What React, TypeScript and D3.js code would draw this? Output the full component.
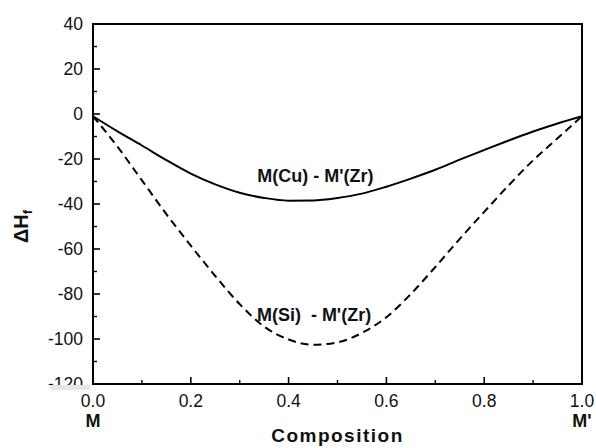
import * as d3 from "d3";

// composition fraction of M'
const composition = [0, 0.05, 0.1, 0.15, 0.2, 0.25, 0.3, 0.35, 0.4, 0.45, 0.5, 0.55, 0.6, 0.65, 0.7, 0.75, 0.8, 0.85, 0.9, 0.95, 1.0];
// M(Cu) - M'(Zr), solid
const cuZr = [-1, -7.7, -14, -20.5, -26.5, -31.3, -35, -37.3, -38.5, -38.4, -37.3, -35.4, -32.3, -28.7, -24.8, -20.3, -16, -11.8, -7.8, -4.2, -1];
// M(Si) - M'(Zr), dashed
const siZr = [-1, -14.5, -29.5, -44.5, -58.5, -72, -84.5, -94.5, -100.2, -102.6, -101.5, -97.3, -90.3, -80, -68, -55.5, -43.5, -31.7, -20.6, -10.8, -1];

const yTicks = [40, 20, 0, -20, -40, -60, -80, -100];
const yMinor = [30, 10, -10, -30, -50, -70, -90, -110];
const xTicks = [0, 0.2, 0.4, 0.6, 0.8, 1.0];
const xMinor = [0.1, 0.3, 0.5, 0.7, 0.9];

const width = 596;
const height = 448;
const margin = { top: 24, right: 14, bottom: 64, left: 93 };

export default function App() {
  const boundsWidth = width - margin.left - margin.right;
  const boundsHeight = height - margin.top - margin.bottom;

  const x = d3.scaleLinear().domain([0, 1]).range([0, boundsWidth]);
  const y = d3.scaleLinear().domain([-120, 40]).range([boundsHeight, 0]);

  const line = d3
    .line<number>()
    .x((_, i) => x(composition[i]))
    .y((d) => y(d))
    .curve(d3.curveMonotoneX);

  const font = "Arial, 'Liberation Sans', sans-serif";

  return (
    <svg
      width={width}
      height={height}
      style={{ position: "absolute", left: 0, top: 0, background: "#fff" }}
      fontFamily={font}
    >
      <defs>
        <clipPath id="lastTick">
          <rect x={0} y={0} width={margin.left} height={margin.top + boundsHeight + 1} />
        </clipPath>
      </defs>
      <g transform={`translate(${margin.left}, ${margin.top})`}>
        {/* y ticks */}
        {yTicks.map((t) => (
          <g key={t}>
            <line x1={0} x2={7} y1={y(t)} y2={y(t)} stroke="#000" strokeWidth={1.6} />
            <text x={-10} y={y(t)} dy="0.36em" textAnchor="end" fontSize={17.5} fill="#111">
              {t}
            </text>
          </g>
        ))}
        {yMinor.map((t) => (
          <line key={t} x1={0} x2={4} y1={y(t)} y2={y(t)} stroke="#000" strokeWidth={1.4} />
        ))}
        {/* x ticks */}
        {xTicks.map((t) => (
          <g key={t}>
            <line x1={x(t)} x2={x(t)} y1={boundsHeight} y2={boundsHeight - 7} stroke="#000" strokeWidth={1.6} />
            <text x={x(t)} y={boundsHeight + 23} textAnchor="middle" fontSize={17.5} fill="#111">
              {t.toFixed(1)}
            </text>
          </g>
        ))}
        {xMinor.map((t) => (
          <line key={t} x1={x(t)} x2={x(t)} y1={boundsHeight} y2={boundsHeight - 4} stroke="#000" strokeWidth={1.4} />
        ))}

        <path d={line(cuZr) ?? ""} fill="none" stroke="#000" strokeWidth={2} />
        <path d={line(siZr) ?? ""} fill="none" stroke="#000" strokeWidth={2} strokeDasharray="8,5" />

        <text x={x(0.455)} y={y(-30.4)} textAnchor="middle" fontSize={18} fontWeight="bold" fill="#111">
          M(Cu) - M'(Zr)
        </text>
        <text x={x(0.452)} y={y(-91.8)} textAnchor="middle" fontSize={18} fontWeight="bold" fill="#111" style={{ whiteSpace: "pre" }}>
          {"M(Si)  - M'(Zr)"}
        </text>

        <rect x={0} y={0} width={boundsWidth} height={boundsHeight} fill="none" stroke="#000" strokeWidth={2} />

        <text x={x(0)} y={boundsHeight + 43} textAnchor="middle" fontSize={18} fontWeight="bold" fill="#111">
          M
        </text>
        <text x={x(1)} y={boundsHeight + 43} textAnchor="middle" fontSize={18} fontWeight="bold" fill="#111">
          M'
        </text>
        <text
          x={boundsWidth / 2}
          y={boundsHeight + 58}
          textAnchor="middle"
          fontSize={19}
          fontWeight="bold"
          letterSpacing={1.5}
          fill="#111"
        >
          Composition
        </text>
      </g>

      {/* -120 label, half hidden under the axis like the scan */}
      <g clipPath="url(#lastTick)">
        <text
          x={margin.left - 10}
          y={margin.top + y(-120)}
          dy="0.36em"
          textAnchor="end"
          fontSize={17.5}
          fill="#111"
        >
          -120
        </text>
      </g>
      <rect x={50} y={margin.top + boundsHeight + 1} width={40} height={5} fill="#ddd" opacity={0.7} />

      <text transform={`translate(28, 243) rotate(-90)`} fontSize={20} fontWeight="bold" fill="#111">
        ΔH<tspan fontSize={13} dy={4}>f</tspan>
      </text>
    </svg>
  );
}
